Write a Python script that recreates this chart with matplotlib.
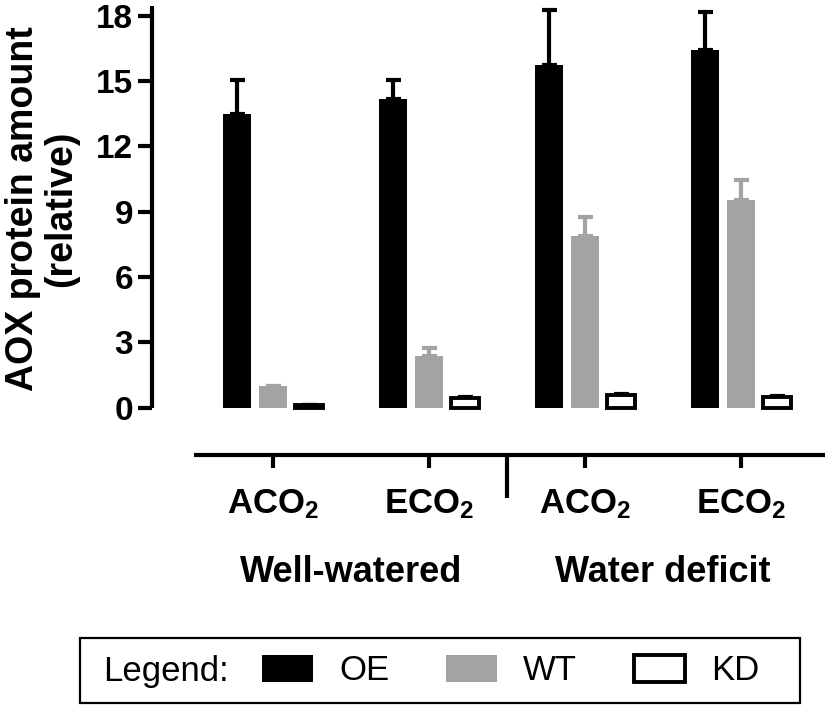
import numpy as np
import matplotlib
matplotlib.use("Agg")
import matplotlib.pyplot as plt
from matplotlib.patches import Rectangle, Patch
from matplotlib.transforms import blended_transform_factory

plt.rcParams['font.family'] = ['Liberation Sans', 'DejaVu Sans']
plt.rcParams['mathtext.fontset'] = 'custom'
plt.rcParams['mathtext.rm'] = 'Liberation Sans:bold'
plt.rcParams['mathtext.it'] = 'Liberation Sans:bold'
plt.rcParams['mathtext.bf'] = 'Liberation Sans:bold'

# data
conditions = ['ACO$_2$', 'ECO$_2$', 'ACO$_2$', 'ECO$_2$']
groups = ['Well-watered', 'Water deficit']
lines = ['OE', 'WT', 'KD']
oe_mean = [13.46, 14.18, 15.74, 16.43]
oe_err = [1.58, 0.86, 2.51, 1.76]
wt_mean = [0.99, 2.36, 7.90, 9.53]
wt_err = [0.0, 0.39, 0.86, 0.92]
kd_mean = [0.12, 0.44, 0.59, 0.48]
kd_err = [0.0, 0.05, 0.05, 0.05]

means = [oe_mean, wt_mean, kd_mean]
errs = [oe_err, wt_err, kd_err]
faces = ['black', '#a3a3a3', 'white']
ecolors = ['black', '#a3a3a3', 'black']

W, H = 829, 706
fig = plt.figure(figsize=(W / 100, H / 100), dpi=100)
ax = fig.add_axes([152 / W, 1 - 455 / H, (825 - 152) / W, (455 - 5) / H])

x = np.arange(len(conditions))
off = 36 / 156
bw = 28 / 156
handles = []
for i in range(3):
    xi = x + (i - 1) * off
    lw = 2.8 if faces[i] == 'white' else 0
    b = ax.bar(xi, means[i], width=bw, color=faces[i], edgecolor='black',
               linewidth=lw, zorder=3)
    ax.errorbar(xi, means[i], yerr=[np.zeros(len(xi)), errs[i]], fmt='none',
                ecolor=ecolors[i], elinewidth=3, capsize=5.4, capthick=3,
                zorder=2)
    handles.append(Patch(facecolor=faces[i], edgecolor='black', linewidth=lw))

ax.set_xlim(-121 / 156, 3 + 84 / 156)
ax.set_ylim(-(455 - 407.5) / 21.77, (407.5 - 5) / 21.77)

for s in ['top', 'right']:
    ax.spines[s].set_visible(False)
ax.spines['left'].set_bounds(0, 18.45)
ax.spines['bottom'].set_bounds((194 - 273) / 156, 3 + 84 / 156)
for s in ['left', 'bottom']:
    ax.spines[s].set_linewidth(3)
    ax.spines[s].set_capstyle('butt')

ax.set_yticks(np.arange(0, 19, 3))
ax.tick_params(axis='y', length=10, width=3, pad=3.5, labelsize=24)
for t in ax.get_yticklabels():
    t.set_fontweight('bold')

ax.set_xticks(x)
ax.set_xticklabels(conditions, fontsize=25, fontweight='bold')
ax.tick_params(axis='x', length=9.5, width=3, pad=14)
ax.set_xticks([1.5], minor=True)
ax.tick_params(axis='x', which='minor', length=31, width=3)

tr = blended_transform_factory(ax.transData, fig.transFigure)
ax.text(0.5, 1 - 572 / H, groups[0], transform=tr, ha='center', va='center',
        fontsize=26, fontweight='bold')
ax.text(2.5, 1 - 572 / H, groups[1], transform=tr, ha='center', va='center',
        fontsize=26, fontweight='bold')

fig.text(42 / W, 1 - 209 / H, 'AOX protein amount\n(relative)', rotation=90,
         ha='center', va='center', multialignment='center', fontsize=27,
         fontweight='bold', linespacing=1.05)

# legend box
fig.add_artist(Rectangle((80 / W, 1 - 703 / H), (800 - 80) / W, (703 - 638) / H,
                         transform=fig.transFigure, fill=False,
                         edgecolor='black', linewidth=1.6))
fig.text(103 / W, 1 - 672 / H, 'Legend:', ha='left', va='center', fontsize=25)
fig.legend(handles, lines, loc='center left',
           bbox_to_anchor=(262 / W, 1 - 671 / H), ncol=3, frameon=False,
           fontsize=25, handlelength=1.47, handleheight=0.84,
           handletextpad=0.75, columnspacing=1.64, borderaxespad=0,
           borderpad=0)

fig.savefig('out.png', dpi=100)
